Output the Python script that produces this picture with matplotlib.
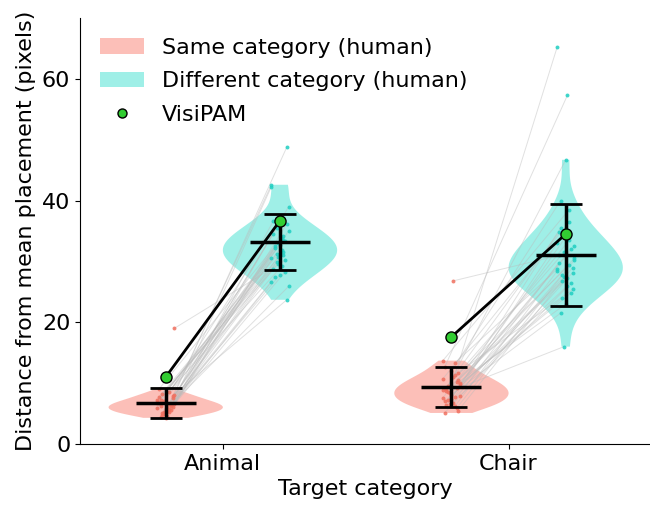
import numpy as np
import matplotlib
matplotlib.use("Agg")
import matplotlib.pyplot as plt
from matplotlib.patches import Patch
from matplotlib.lines import Line2D

# categories on the x axis
categories = ["Animal", "Chair"]

# per-participant distances (pixels), participant order
animal_same = [6.9, 5.3, 8.2, 19.0, 6.1, 4.4, 7.5, 5.8, 9.0, 6.4, 5.0, 7.2, 6.6, 4.8, 8.0, 5.5, 6.2, 7.9,
               4.3, 6.8, 5.6, 7.0, 5.9, 8.6, 5.1, 6.5, 4.6, 7.3, 6.0, 5.4, 7.7, 6.3, 5.2, 6.7, 5.7]
animal_diff = [31.6, 42.3, 29.6, 30.2, 34.5, 27.8, 48.8, 32.5, 33.9, 25.9, 35.5, 31.1, 42.6, 30.8, 33.3, 28.8,
               37.0, 23.7, 32.2, 29.2, 39.0, 31.3, 34.2, 30.5, 33.0, 28.3, 36.6, 32.7, 36.2, 27.4, 31.9, 35.0,
               29.9, 33.6, 26.6]
chair_same = [8.9, 11.3, 7.2, 9.8, 26.8, 6.4, 10.5, 8.1, 12.6, 5.9, 9.4, 7.6, 13.3, 8.5, 10.0, 6.8, 9.0, 11.7,
              7.4, 5.1, 10.2, 8.3, 13.7, 6.2, 9.6, 7.9, 11.0, 8.7, 5.5, 12.0, 7.0, 9.2, 6.6, 10.7, 7.8]
chair_diff = [29.4, 65.2, 27.5, 24.8, 31.0, 34.0, 28.1, 21.5, 57.3, 30.2, 26.8, 33.5, 28.7, 16.0, 32.0, 29.8,
              46.7, 25.4, 35.5, 27.2, 30.5, 24.0, 38.5, 28.4, 31.5, 26.4, 34.8, 23.0, 29.0, 40.0, 26.0, 32.5,
              27.8, 36.5, 33.0]

# human mean and SD (same, different) per category
same_mean = [6.8, 9.3]
same_sd = [2.45, 3.3]
diff_mean = [33.2, 31.0]
diff_sd = [4.6, 8.4]

# model results
visipam_same = [11.0, 17.6]
visipam_diff = [36.7, 34.5]

same_fill = "#FA8072"
diff_fill = "#40E0D0"
same_dot = "#F0705F"
diff_dot = "#1FCFC2"

fig = plt.figure(figsize=(6.5, 5.07), dpi=100)
ax = fig.add_axes([80 / 650, 63 / 507, 570 / 650, 426 / 507])

off = 0.2
groups = [(animal_same, animal_diff), (chair_same, chair_diff)]
n = len(animal_same)
jit = np.array([((i * 7) % 11 - 5) * 0.006 for i in range(n)])

for i, (s, d) in enumerate(groups):
    s = np.array(s)
    d = np.array(d)
    xs = i - off
    xd = i + off
    # violins drawn without the far outliers
    for vals, x, m, sd, col in [(s, xs, same_mean[i], same_sd[i], same_fill),
                                (d, xd, diff_mean[i], diff_sd[i], diff_fill)]:
        keep = vals[np.abs(vals - m) <= 2.5 * sd]
        vp = ax.violinplot(keep, positions=[x], widths=0.4, showextrema=False)
        for b in vp["bodies"]:
            b.set_facecolor(col)
            b.set_edgecolor("none")
            b.set_alpha(0.5)
            b.set_zorder(1)
    # participant lines
    for k in range(n):
        ax.plot([xs + jit[k], xd + jit[::-1][k]], [s[k], d[k]], color="#BBBBBB", lw=0.7, alpha=0.45, zorder=2)
    ax.scatter(xs + jit, s, s=8, color=same_dot, alpha=0.85, lw=0, zorder=3)
    ax.scatter(xd + jit[::-1], d, s=8, color=diff_dot, alpha=0.85, lw=0, zorder=3)
    # mean +- SD
    for x, m, sd in [(xs, same_mean[i], same_sd[i]), (xd, diff_mean[i], diff_sd[i])]:
        ax.errorbar(x, m, yerr=sd, color="black", elinewidth=2.5, capsize=11.5, capthick=2, zorder=4)
        ax.hlines(m, x - 0.105, x + 0.105, color="black", lw=2.5, zorder=4)
    ax.plot([xs, xd], [visipam_same[i], visipam_diff[i]], color="black", lw=2, zorder=5)
    ax.plot([xs, xd], [visipam_same[i], visipam_diff[i]], "o", color="#32CD32", mec="black",
            mew=1, ms=8, zorder=6)

ax.set_xlim(-0.5, 1.495)
ax.set_ylim(0, 70)
ax.set_xticks([0, 1])
ax.set_xticklabels(categories)
ax.set_yticks([0, 20, 40, 60])
ax.tick_params(labelsize=16)
ax.set_xlabel("Target category", fontsize=16)
ax.set_ylabel("Distance from mean placement (pixels)", fontsize=16)
ax.spines["top"].set_visible(False)
ax.spines["right"].set_visible(False)

handles = [Patch(facecolor=same_fill, alpha=0.5, edgecolor="none", label="Same category (human)"),
           Patch(facecolor=diff_fill, alpha=0.5, edgecolor="none", label="Different category (human)"),
           Line2D([], [], marker="o", ls="none", color="#32CD32", mec="black", ms=6.5, label="VisiPAM")]
ax.legend(handles=handles, loc="upper left", frameon=False, fontsize=16, labelspacing=0.6,
          bbox_to_anchor=(0.0, 1.0))

fig.savefig("out.png", dpi=100)
